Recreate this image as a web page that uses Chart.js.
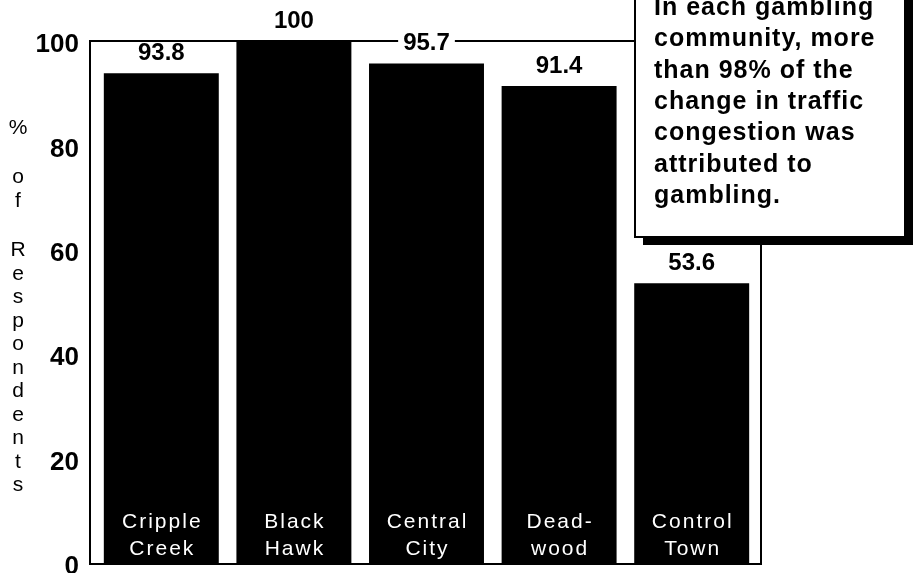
<!DOCTYPE html>
<html>
<head>
<meta charset="utf-8">
<script src="https://cdn.jsdelivr.net/npm/chart.js@4.4.1/dist/chart.umd.min.js"></script>
<style>
  html, body { margin: 0; padding: 0; background: #fff; }
  #wrap { width: 913px; height: 573px; overflow: hidden; }
</style>
</head>
<body>
<div id="wrap"><canvas id="trafficChart" width="913" height="573"></canvas></div>
<script>
// Towns, split into the two lines printed inside each bar
const towns = [['Cripple', 'Creek'], ['Black', 'Hawk'], ['Central', 'City'], ['Dead-', 'wood'], ['Control', 'Town']];
// % of respondents reporting more traffic congestion
const pctRespondents = [93.8, 100, 95.7, 91.4, 53.6];
const yTicks = [0, 20, 40, 60, 80, 100];
const axisTitle = '% of Respondents';
const noteLines = ['In each gambling', 'community, more', 'than 98% of the', 'change in traffic', 'congestion was', 'attributed to', 'gambling.'];

const FONT = "'Liberation Sans', Arial, Helvetica, sans-serif";

// Draws the frame, value labels, in-bar town names, stacked axis title and the note box.
const decorations = {
    id: 'decorations',
    afterDraw(chart) {
        const ctx = chart.ctx;
        const area = chart.chartArea;
        const bars = chart.getDatasetMeta(0).data;
        const left = area.left - 5, right = area.right + 3;
        const top = area.top, bottom = area.bottom + 1;
        const boxLeft = 635, boxRight = 905, boxBottom = 237, shadow = 8;
        ctx.save();

        // open frame round the plot (top edge runs into the note box)
        ctx.strokeStyle = '#000';
        ctx.lineWidth = 2;
        ctx.beginPath();
        ctx.moveTo(boxLeft, top);
        ctx.lineTo(left, top);
        ctx.lineTo(left, bottom);
        ctx.lineTo(right, bottom);
        ctx.lineTo(right, boxBottom);
        ctx.stroke();

        // value above each bar, on a white patch so it breaks the frame line
        ctx.font = `bold 24px ${FONT}`;
        ctx.textAlign = 'center';
        ctx.textBaseline = 'middle';
        bars.forEach((bar, i) => {
            const txt = String(pctRespondents[i]);
            const w = ctx.measureText(txt).width + 10;
            const y = bar.y - 20;
            ctx.fillStyle = '#fff';
            ctx.fillRect(bar.x - w / 2, y - 10, w, 20);
            ctx.fillStyle = '#000';
            ctx.fillText(txt, bar.x, y);
        });

        // town names in white near the foot of each bar
        ctx.font = `21px ${FONT}`;
        ctx.textBaseline = 'alphabetic';
        ctx.fillStyle = '#fff';
        ctx.letterSpacing = '2px';
        bars.forEach((bar, i) => {
            towns[i].forEach((line, j) => ctx.fillText(line, bar.x + 1, area.bottom - 35 + j * 27));
        });
        ctx.letterSpacing = '0px';

        // y title, one letter per row
        ctx.fillStyle = '#000';
        ctx.textBaseline = 'middle';
        let ty = 128;
        for (const ch of axisTitle) {
            if (ch === ' ') { ty += 26; continue; }
            ctx.fillText(ch, 18, ty);
            ty += 23.5;
        }

        // note box with drop shadow
        ctx.fillStyle = '#000';
        ctx.fillRect(boxLeft + shadow, -10, boxRight - boxLeft, boxBottom + 10 + shadow);
        ctx.fillStyle = '#fff';
        ctx.fillRect(boxLeft, -10, boxRight - boxLeft, boxBottom + 10);
        ctx.strokeRect(boxLeft, -10, boxRight - boxLeft, boxBottom + 10);
        ctx.fillStyle = '#000';
        ctx.font = `bold 25px ${FONT}`;
        ctx.letterSpacing = '1px';
        ctx.textAlign = 'left';
        ctx.textBaseline = 'alphabetic';
        noteLines.forEach((line, i) => ctx.fillText(line, 654, 15 + i * 31.3));

        ctx.restore();
    }
};

const ctx = document.getElementById('trafficChart').getContext('2d');
new Chart(ctx, {
    type: 'bar',
    data: {
        labels: towns.map(t => t.join(' ')),
        datasets: [{
            data: pctRespondents,
            backgroundColor: '#000',
            borderWidth: 0,
            barPercentage: 0.867,
            categoryPercentage: 1
        }]
    },
    options: {
        responsive: false,
        animation: false,
        devicePixelRatio: 1,
        layout: {padding: {top: 41, bottom: 10, right: 155, left: 0}},
        plugins: {legend: {display: false}, tooltip: {enabled: false}},
        scales: {
            x: {display: false},
            y: {
                min: 0,
                max: 100,
                // fixed axis width, and let the end labels hang over the padding
                afterFit: s => { s.width = 95; s.paddingTop = 0; s.paddingBottom = 0; },
                afterBuildTicks: s => { s.ticks = yTicks.map(v => ({value: v})); },
                grid: {display: false, drawTicks: false},
                border: {display: false},
                ticks: {
                    padding: 16,
                    labelOffset: 4,
                    color: '#000',
                    font: {family: FONT, size: 26, weight: 'bold'}
                }
            }
        }
    },
    plugins: [decorations]
});
</script>
</body>
</html>
